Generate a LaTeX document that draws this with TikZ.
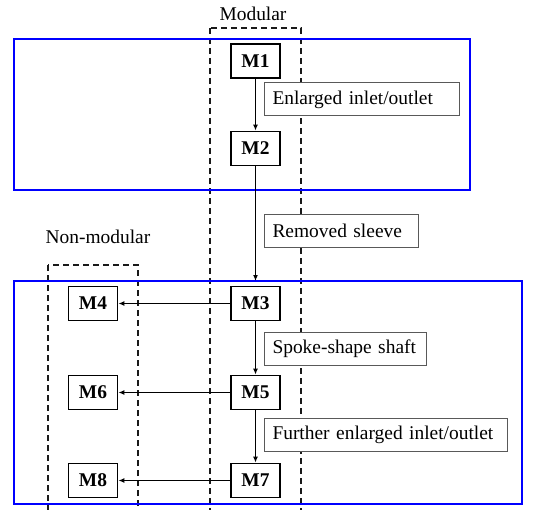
\documentclass[tikz,border=0pt]{standalone}
\usepackage{fontspec}
\setmainfont{Liberation Serif}
\usetikzlibrary{arrows.meta}
\begin{document}
\begin{tikzpicture}[x=1bp,y=-1bp,
  mbox/.style={draw=black,fill=white,line width=1.8bp,minimum width=49bp,minimum height=34bp,inner sep=0pt,font=\fontsize{19.5}{22}\selectfont\bfseries},
  lbl/.style={draw=black!65,fill=white,line width=1bp,minimum height=33bp,inner ysep=0pt,inner xsep=8bp,anchor=west,align=left,font=\fontsize{19.5}{22}\selectfont},
  region/.style={draw=blue,line width=2bp},
  grp/.style={draw=black!90,line width=2bp,dash pattern=on 6bp off 4bp},
  arr/.style={line width=1.4bp,-{Latex[length=6bp,width=5bp]}},
  grplabel/.style={font=\fontsize{19.5}{22}\selectfont}]
\fill[white] (0,0) rectangle (540,510);
\useasboundingbox (0,0) rectangle (540,510);
% groups
\draw[grp] (210,28) rectangle (301,510.5);
\draw[grp] (48,265) rectangle (138,510.5);
\node[grplabel] (modlab) at (253,14) {Modular};
\node[grplabel] (nonmodlab) at (98,237) {Non-modular};
% regions
\draw[region] (14,39) rectangle (470,190);
\draw[region] (14,281) rectangle (522,504);
\coordinate (B2top) at (255.5,281);
% modules
\node[mbox] (M1) at (255.5,61) {M1};
\node[mbox] (M2) at (255.5,148.5) {M2};
\node[mbox] (M3) at (255.5,303.5) {M3};
\node[mbox] (M4) at (93,303.5) {M4};
\node[mbox] (M5) at (255.5,392.5) {M5};
\node[mbox] (M6) at (93,392.5) {M6};
\node[mbox] (M7) at (255.5,480.5) {M7};
\node[mbox] (M8) at (93,480.5) {M8};
% connectors
\draw[arr] (M1) -- (M2);
\draw[arr] (M2) -- (B2top);
\draw[arr] (M3) -- (M5);
\draw[arr] (M5) -- (M7);
\draw[arr] (M3) -- (M4);
\draw[arr] (M5) -- (M6);
\draw[arr] (M7) -- (M8);
% labels
\node[lbl,text width=179bp] (L1) at (264,99.5) {Enlarged inlet/outlet};
\node[lbl,text width=138bp] (L2) at (264,231) {Removed sleeve};
\node[lbl,text width=146bp] (L3) at (264,349) {Spoke-shape shaft};
\node[lbl,text width=227bp] (L4) at (264,435) {Further enlarged inlet/outlet};
\end{tikzpicture}
\end{document}
